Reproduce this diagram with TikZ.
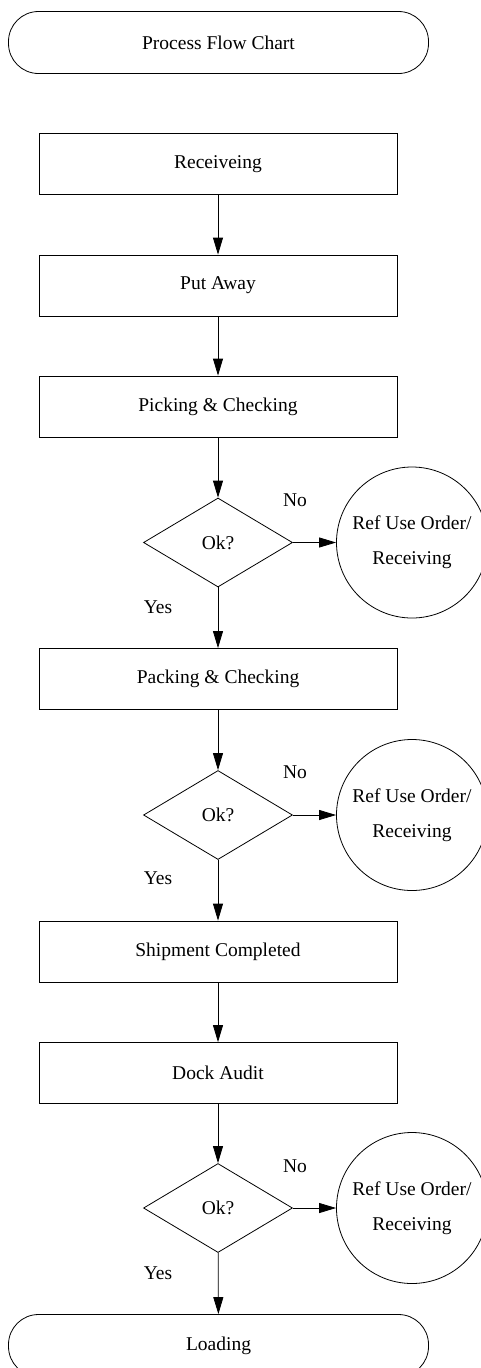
\documentclass[tikz,border=0pt]{standalone}
\usepackage{fontspec}
\setmainfont{Liberation Serif}
\usetikzlibrary{shapes.geometric,arrows.meta}

\begin{document}
\begin{tikzpicture}[x=1pt,y=1pt,
  every node/.style={font=\fontsize{19.5}{23}\selectfont, inner sep=0pt},
  terminal/.style={draw, line width=0.8pt, rounded corners=30pt,
    minimum width=420pt, minimum height=62pt},
  stepbox/.style={draw, line width=0.8pt, minimum width=358pt, minimum height=61pt},
  decision/.style={draw, line width=0.8pt, diamond, aspect=1.67,
    minimum width=149pt, minimum height=89pt},
  refcircle/.style={draw, line width=0.8pt, circle, minimum size=151pt,
    align=center, font=\fontsize{19.5}{35}\selectfont},
  flow/.style={line width=0.8pt, -{Triangle[length=17pt,width=10pt]}},
  branch/.style={font=\fontsize{19.5}{23}\selectfont}
]
\clip (0,0) rectangle (481,-1368);
\fill[white] (0,0) rectangle (481,-1368);

% main column
\node[terminal] (title) at (218.5,-42.5) {Process Flow Chart};
\node[stepbox] (rec)  at (218,-164)    {Receiveing};
\node[stepbox] (put)  at (218,-285.5)  {Put Away};
\node[stepbox] (pick) at (218,-406.5)  {Picking \& Checking};
\node[decision] (d1)  at (218,-542.5)  {Ok?};
\node[stepbox] (pack) at (218,-679)    {Packing \& Checking};
\node[decision] (d2)  at (218,-815)    {Ok?};
\node[stepbox] (ship) at (218,-951.5)  {Shipment Completed};
\node[stepbox] (dock) at (218,-1073)   {Dock Audit};
\node[decision] (d3)  at (218,-1208)   {Ok?};
\node[terminal] (load) at (218.5,-1345.5) {Loading};

% rejection targets
\node[refcircle] (c1) at (412,-542.5) {Ref Use Order/\\Receiving};
\node[refcircle] (c2) at (412,-815)   {Ref Use Order/\\Receiving};
\node[refcircle] (c3) at (412,-1208)  {Ref Use Order/\\Receiving};

% branch labels
\node[branch] (no1)  at (295,-500)  {No};
\node[branch] (yes1) at (158,-607)  {Yes};
\node[branch] (no2)  at (295,-772)  {No};
\node[branch] (yes2) at (158,-878)  {Yes};
\node[branch] (no3)  at (295,-1166) {No};
\node[branch] (yes3) at (158,-1273) {Yes};

% connectors
\draw[flow] (rec)  -- (put);
\draw[flow] (put)  -- (pick);
\draw[flow] (pick) -- (d1);
\draw[flow] (d1)   -- (pack);
\draw[flow] (d1)   -- (c1);
\draw[flow] (pack) -- (d2);
\draw[flow] (d2)   -- (ship);
\draw[flow] (d2)   -- (c2);
\draw[flow] (ship) -- (dock);
\draw[flow] (dock) -- (d3);
\draw[flow] (d3)   -- (load);
\draw[flow] (d3)   -- (c3);
\end{tikzpicture}
\end{document}
